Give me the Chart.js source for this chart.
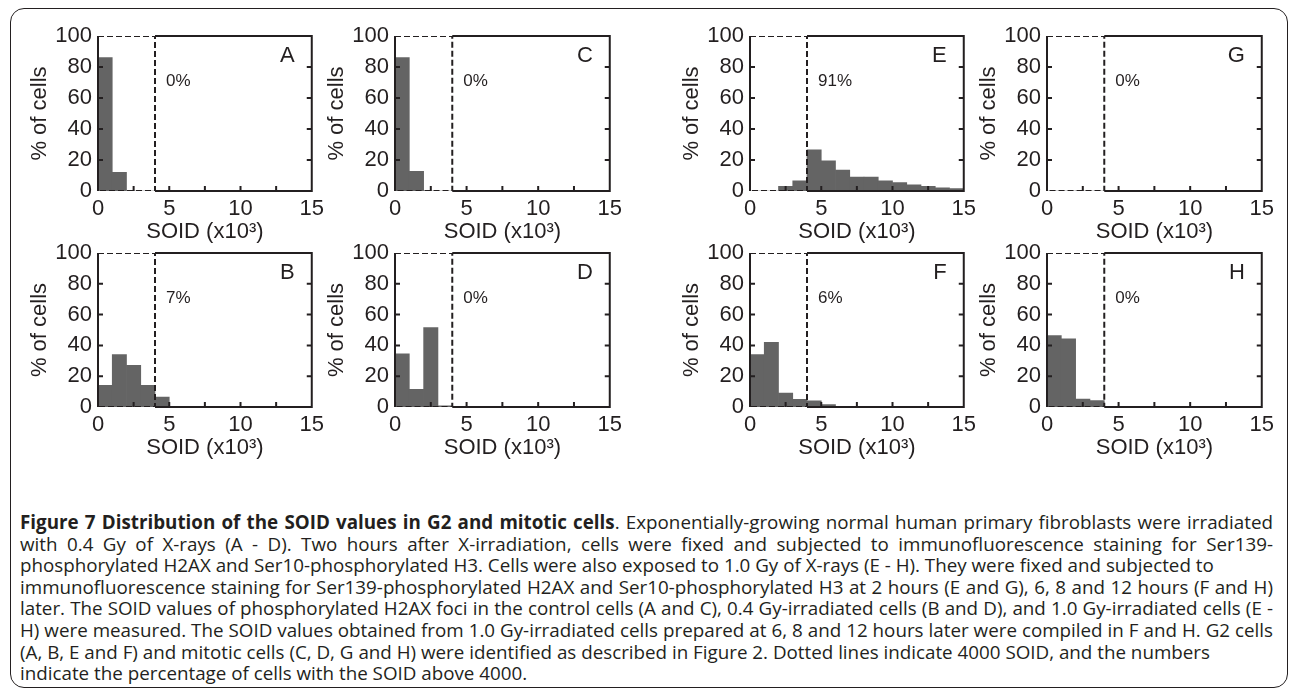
<!DOCTYPE html>
<html>
<head>
<meta charset="utf-8">
<script src="https://cdn.jsdelivr.net/npm/chart.js@4.4.1/dist/chart.umd.min.js"></script>
<style>
    html, body { margin: 0; padding: 0; background: #fff; }
    body { width: 1293px; height: 696px; position: relative; overflow: hidden; }
    .frame {
        position: absolute; left: 10px; top: 8px; width: 1278px; height: 680px;
        border: 1.5px solid #231f20; border-radius: 14px; box-sizing: border-box;
    }
    .panel { position: absolute; }
    .caption {
        position: absolute; left: 20px; top: 512px; width: 1253px;
        font-family: "Open Sans", sans-serif; font-size: 18.8px; line-height: 21.6px;
        color: #231f20; white-space: nowrap;
    }
    .caption div { height: 21.6px; }
    .caption .full { text-align: justify; text-align-last: justify; white-space: normal; }
</style>
</head>
<body>
<div class="frame"></div>
<div id="panels"></div>
<div class="caption">
<div class="full"><b>Figure 7 Distribution of the SOID values in G2 and mitotic cells</b>. Exponentially-growing normal human primary fibroblasts were irradiated</div>
<div class="full">with 0.4 Gy of X-rays (A - D). Two hours after X-irradiation, cells were fixed and subjected to immunofluorescence staining for Ser139-</div>
<div>phosphorylated H2AX and Ser10-phosphorylated H3. Cells were also exposed to 1.0 Gy of X-rays (E - H). They were fixed and subjected to</div>
<div class="full">immunofluorescence staining for Ser139-phosphorylated H2AX and Ser10-phosphorylated H3 at 2 hours (E and G), 6, 8 and 12 hours (F and H)</div>
<div class="full">later. The SOID values of phosphorylated H2AX foci in the control cells (A and C), 0.4 Gy-irradiated cells (B and D), and 1.0 Gy-irradiated cells (E -</div>
<div class="full">H) were measured. The SOID values obtained from 1.0 Gy-irradiated cells prepared at 6, 8 and 12 hours later were compiled in F and H. G2 cells</div>
<div>(A, B, E and F) and mitotic cells (C, D, G and H) were identified as described in Figure 2. Dotted lines indicate 4000 SOID, and the numbers</div>
<div>indicate the percentage of cells with the SOID above 4000.</div>
</div>
<script>
// histogram bin centres, SOID x10^3 (bins of width 1)
const binCenters = [0.5, 1.5, 2.5, 3.5, 4.5, 5.5, 6.5, 7.5, 8.5, 9.5, 10.5, 11.5, 12.5, 13.5, 14.5];

// % of cells per bin
const valuesA = [86, 12, 0, 0, 0, 0, 0, 0, 0, 0, 0, 0, 0, 0, 0];
const valuesB = [14, 34, 27, 14, 6.5, 0, 0, 0, 0, 0, 0, 0, 0, 0, 0];
const valuesC = [86, 12.7, 0, 0, 0, 0, 0, 0, 0, 0, 0, 0, 0, 0, 0];
const valuesD = [34.5, 11.5, 51.5, 0.8, 0, 0, 0, 0, 0, 0, 0, 0, 0, 0, 0];
const valuesE = [0, 0, 3, 6.5, 26.5, 19.5, 13.5, 9, 9, 6.5, 5.5, 4, 3, 2, 1.5];
const valuesF = [34, 42, 9, 5, 4, 1.5, 0, 0, 0, 0, 0, 0, 0, 0, 0];
const valuesG = [0, 0, 0, 0, 0, 0, 0, 0, 0, 0, 0, 0, 0, 0, 0];
const valuesH = [46.3, 44.3, 5.2, 4.1, 0, 0, 0, 0, 0, 0, 0, 0, 0, 0, 0];

// threshold box (SOID 4000) drawn dashed
const thresholdX = [0, 4, 4, 0];
const thresholdY = [100, 100, 0, 0];

const panelLetters = ['A', 'B', 'C', 'D', 'E', 'F', 'G', 'H'];
const percentLabels = ['0%', '7%', '0%', '0%', '91%', '6%', '0%', '0%'];
const xMinorTicks = [2.5, 5, 7.5, 10, 12.5];
const yMinorTicks = [20, 40, 60, 80];

const panelValues = [valuesA, valuesB, valuesC, valuesD, valuesE, valuesF, valuesG, valuesH];

// plot area rectangles in page pixels
const plotBoxes = [
    { left: 98, top: 36, w: 215, h: 155 },
    { left: 98, top: 253, w: 215, h: 154 },
    { left: 395, top: 36, w: 216, h: 155 },
    { left: 395, top: 253, w: 216, h: 154 },
    { left: 750, top: 36, w: 215, h: 155 },
    { left: 750, top: 253, w: 215, h: 154 },
    { left: 1047, top: 36, w: 216, h: 155 },
    { left: 1047, top: 253, w: 216, h: 154 },
];

const Y_AXIS_W = 80;
const X_AXIS_H = 60;
const PAD_TOP = 20;
const PAD_RIGHT = 16;
const INK = '#231f20';
const FONT = '"Liberation Sans", Arial, sans-serif';

const framePlugin = {
    id: 'frame',
    afterDatasetsDraw(chart, args, opts) {
        const { ctx, chartArea: a, scales } = chart;
        const x4 = scales.x.getPixelForValue(4);
        ctx.save();
        ctx.strokeStyle = INK;
        ctx.lineWidth = 2;
        ctx.beginPath();
        ctx.moveTo(a.left, a.top);
        ctx.lineTo(a.left, a.bottom);
        ctx.moveTo(x4, a.top);
        ctx.lineTo(a.right, a.top);
        ctx.lineTo(a.right, a.bottom);
        ctx.lineTo(x4, a.bottom);
        ctx.stroke();

        // inward tick marks
        ctx.beginPath();
        xMinorTicks.forEach(v => {
            const px = scales.x.getPixelForValue(v);
            ctx.moveTo(px, a.bottom);
            ctx.lineTo(px, a.bottom - 5);
        });
        yMinorTicks.forEach(v => {
            const py = scales.y.getPixelForValue(v);
            ctx.moveTo(a.left, py);
            ctx.lineTo(a.left + 5, py);
            ctx.moveTo(a.right, py);
            ctx.lineTo(a.right - 5, py);
        });
        ctx.stroke();

        // panel letter and percentage above threshold
        ctx.fillStyle = INK;
        ctx.font = '22px ' + FONT;
        ctx.textAlign = 'right';
        ctx.textBaseline = 'middle';
        ctx.fillText(opts.letter, a.right - 17, a.top + 20);
        ctx.font = '17px ' + FONT;
        ctx.textAlign = 'left';
        ctx.fillText(opts.percent, x4 + 11, a.top + 45);
        ctx.restore();
    }
};

function renderPanel(i) {
    const box = plotBoxes[i];
    const holder = document.createElement('div');
    holder.className = 'panel';
    holder.style.left = (box.left - Y_AXIS_W) + 'px';
    holder.style.top = (box.top - PAD_TOP) + 'px';
    holder.style.width = (box.w + Y_AXIS_W + PAD_RIGHT) + 'px';
    holder.style.height = (box.h + PAD_TOP + X_AXIS_H) + 'px';
    const canvas = document.createElement('canvas');
    holder.appendChild(canvas);
    document.getElementById('panels').appendChild(holder);

    const bars = binCenters.map((x, k) => ({ x: x, y: panelValues[i][k] }));
    const dashed = thresholdX.map((x, k) => ({ x: x, y: thresholdY[k] }));

    new Chart(canvas.getContext('2d'), {
        type: 'bar',
        data: {
            datasets: [
                {
                    type: 'line',
                    data: dashed,
                    borderColor: INK,
                    borderWidth: 2,
                    borderDash: [6, 3],
                    pointRadius: 0,
                    fill: false,
                    tension: 0,
                    order: 0,
                },
                {
                    data: bars,
                    backgroundColor: '#646464',
                    borderWidth: 0,
                    barPercentage: 1,
                    categoryPercentage: 1,
                    order: 1,
                }
            ]
        },
        options: {
            responsive: true,
            maintainAspectRatio: false,
            animation: false,
            layout: { padding: { top: PAD_TOP, right: PAD_RIGHT, left: 0, bottom: 0 } },
            plugins: {
                legend: { display: false },
                tooltip: { enabled: false },
                frame: { letter: panelLetters[i], percent: percentLabels[i] }
            },
            scales: {
                x: {
                    type: 'linear',
                    min: 0,
                    max: 15,
                    offset: false,
                    grid: { display: false, drawTicks: false },
                    border: { display: false },
                    ticks: {
                        stepSize: 5,
                        padding: 5,
                        color: INK,
                        font: { family: FONT, size: 22 },
                        maxRotation: 0
                    },
                    title: {
                        display: true,
                        text: 'SOID (x10³)',
                        color: INK,
                        font: { family: FONT, size: 22 },
                        padding: { top: 0, bottom: 6 }
                    },
                    afterFit(scale) { scale.height = X_AXIS_H; }
                },
                y: {
                    min: 0,
                    max: 100,
                    grid: { display: false, drawTicks: false },
                    border: { display: false },
                    ticks: {
                        stepSize: 20,
                        padding: 6,
                        color: INK,
                        font: { family: FONT, size: 22 }
                    },
                    title: {
                        display: true,
                        text: '% of cells',
                        color: INK,
                        font: { family: FONT, size: 22 },
                        padding: { top: 9, bottom: 0 }
                    },
                    afterFit(scale) { scale.width = Y_AXIS_W; }
                }
            }
        },
        plugins: [framePlugin]
    });
}

for (let i = 0; i < plotBoxes.length; i++) {
    renderPanel(i);
}
</script>
</body>
</html>
